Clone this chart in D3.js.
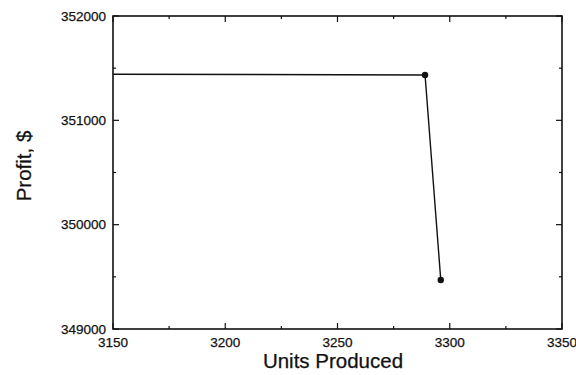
<!DOCTYPE html>
<html>
<head>
<meta charset="utf-8">
<script src="https://cdn.jsdelivr.net/npm/d3@7"></script>
<style>
  body { margin: 0; background: #fff; }
  text { font-family: "Liberation Sans", Arial, Helvetica, sans-serif; fill: #111; stroke: #111; stroke-width: 0.25; }
</style>
</head>
<body>
<svg id="chart" width="576" height="375"></svg>
<script>
// data
var unitsProduced = [3100, 3289, 3296];
var profit = [351445, 351435, 349470];
var markerShown = [false, true, true];

var xTicks = [3150, 3200, 3250, 3300, 3350];
var yTicks = [349000, 350000, 351000, 352000];

var margin = { left: 113, right: 14, top: 16, bottom: 46 };
var width = 576, height = 375;

var svg = d3.select('#chart');

var x = d3.scaleLinear()
    .domain([3150, 3350])
    .range([margin.left, width - margin.right]);

var y = d3.scaleLinear()
    .domain([349000, 352000])
    .range([height - margin.bottom, margin.top]);

var plotW = width - margin.right - margin.left;
var plotH = height - margin.bottom - margin.top;

svg.append('clipPath')
    .attr('id', 'plot-clip')
    .append('rect')
    .attr('x', margin.left)
    .attr('y', margin.top)
    .attr('width', plotW)
    .attr('height', plotH);

var xMinor = d3.range(3150, 3351, 25);
var yMinor = d3.range(349000, 352001, 500);

function isMajorX(v) { return xTicks.indexOf(v) >= 0; }
function isMajorY(v) { return yTicks.indexOf(v) >= 0; }

// ticks on every side, pointing inward
var tickG = svg.append('g').attr('stroke', '#111').attr('stroke-width', 1.2);
xMinor.forEach(function(v) {
    var len = isMajorX(v) ? 6 : 3;
    tickG.append('line')
        .attr('x1', x(v)).attr('x2', x(v))
        .attr('y1', y.range()[0]).attr('y2', y.range()[0] - len);
    tickG.append('line')
        .attr('x1', x(v)).attr('x2', x(v))
        .attr('y1', y.range()[1]).attr('y2', y.range()[1] + len);
});
yMinor.forEach(function(v) {
    var len = isMajorY(v) ? 6 : 3;
    tickG.append('line')
        .attr('x1', x.range()[0]).attr('x2', x.range()[0] + len)
        .attr('y1', y(v)).attr('y2', y(v));
    tickG.append('line')
        .attr('x1', x.range()[1]).attr('x2', x.range()[1] - len)
        .attr('y1', y(v)).attr('y2', y(v));
});

// frame
svg.append('rect')
    .attr('x', margin.left)
    .attr('y', margin.top)
    .attr('width', plotW)
    .attr('height', plotH)
    .attr('fill', 'none')
    .attr('stroke', '#111')
    .attr('stroke-width', 1.6);

// tick labels
svg.selectAll('.x-label')
    .data(xTicks)
    .join('text')
    .attr('class', 'x-label')
    .attr('x', d => x(d))
    .attr('y', y.range()[0] + 18)
    .attr('text-anchor', 'middle')
    .attr('font-size', 13.5)
    .text(d => d);

svg.selectAll('.y-label')
    .data(yTicks)
    .join('text')
    .attr('class', 'y-label')
    .attr('x', margin.left - 7)
    .attr('y', d => y(d))
    .attr('dy', '0.35em')
    .attr('text-anchor', 'end')
    .attr('font-size', 13.5)
    .text(d => d);

// axis titles
svg.append('text')
    .attr('x', 333)
    .attr('y', 368)
    .attr('text-anchor', 'middle')
    .attr('font-size', 20.5)
    .text('Units Produced');

svg.append('text')
    .attr('transform', 'translate(31,166) rotate(-90)')
    .attr('text-anchor', 'middle')
    .attr('font-size', 20.5)
    .text('Profit, $');

// series
var pts = unitsProduced.map((u, i) => ({ u: u, p: profit[i], m: markerShown[i] }));

var line = d3.line()
    .x(d => x(d.u))
    .y(d => y(d.p));

var series = svg.append('g').attr('clip-path', 'url(#plot-clip)');

series.append('path')
    .datum(pts)
    .attr('d', line)
    .attr('fill', 'none')
    .attr('stroke', '#111')
    .attr('stroke-width', 1.4);

series.selectAll('circle')
    .data(pts.filter(d => d.m))
    .join('circle')
    .attr('cx', d => x(d.u))
    .attr('cy', d => y(d.p))
    .attr('r', 3.2)
    .attr('fill', '#111');
</script>
</body>
</html>
